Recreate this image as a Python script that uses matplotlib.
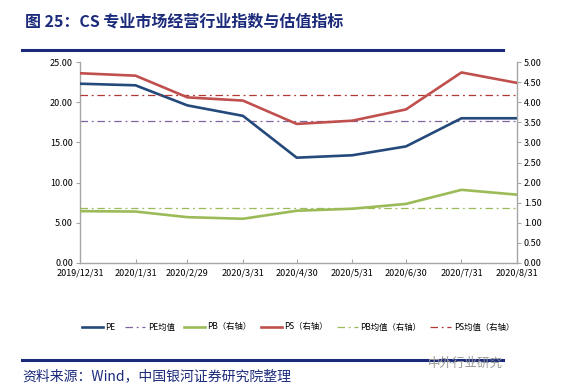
import matplotlib
matplotlib.use("Agg")
import matplotlib.pyplot as plt
from matplotlib.lines import Line2D
import datetime as dt

plt.rcParams['font.family'] = ['Noto Sans CJK SC', 'DejaVu Sans']

dates = ["2019/12/31", "2020/1/31", "2020/2/29", "2020/3/31", "2020/4/30",
         "2020/5/31", "2020/6/30", "2020/7/31", "2020/8/31"]
pe = [22.3, 22.1, 19.6, 18.3, 13.1, 13.4, 14.5, 18.0, 18.0]
ps = [4.72, 4.66, 4.12, 4.04, 3.46, 3.54, 3.82, 4.74, 4.48]
pb = [1.29, 1.28, 1.14, 1.10, 1.30, 1.35, 1.47, 1.82, 1.70]
pe_mean = 17.7
ps_mean = 4.18
pb_mean = 1.38

title = "图 25：CS 专业市场经营行业指数与估值指标"
source = "资料来源：Wind，中国银河证券研究院整理"
watermark = "中外行业研究"

x = [dt.datetime.strptime(d, "%Y/%m/%d") for d in dates]

navy = "#1B2A7A"
c_pe = "#24497A"
c_ps = "#C0504D"
c_pb = "#9BBB59"
c_pem = "#8064A2"
c_psm = "#B03A36"
c_pbm = "#9BBB59"
grey = "#A6A6A6"
dash = (0, (6, 3, 1.5, 3))

fig = plt.figure(figsize=(5.73, 3.92), dpi=100)
ax = fig.add_axes([80/573, 1-263/392, (517-80)/573, (263-62)/392])
ax2 = ax.twinx()

ax.plot(x, pe, color=c_pe, lw=1.9, zorder=5)
ax.plot([x[0], x[-1]], [pe_mean, pe_mean], color=c_pem, lw=0.9, ls=dash)
ax2.plot(x, pb, color=c_pb, lw=1.9, zorder=5)
ax2.plot(x, ps, color=c_ps, lw=1.9, zorder=5)
ax2.plot([x[0], x[-1]], [pb_mean, pb_mean], color=c_pbm, lw=0.9, ls=dash)
ax2.plot([x[0], x[-1]], [ps_mean, ps_mean], color=c_psm, lw=0.9, ls=dash)

ax.set_xlim(x[0], x[-1])
ax.set_ylim(0, 25)
ax2.set_ylim(0, 5)
lt = [0, 5, 10, 15, 20, 25]
ax.set_yticks(lt)
ax.set_yticklabels([f"{v:.2f}" for v in lt])
r = [i * 0.5 for i in range(11)]
ax2.set_yticks(r)
ax2.set_yticklabels([f"{v:.2f}" for v in r])
ax.set_xticks(x)
ax.set_xticklabels(dates)

for a in (ax, ax2):
    a.spines["top"].set_visible(False)
    for s in ("left", "right", "bottom"):
        a.spines[s].set_color(grey)
        a.spines[s].set_linewidth(1.0)
    a.tick_params(axis='y', length=3, width=0.8, color=grey, labelsize=6.5, pad=2)
ax.tick_params(axis='x', length=3, width=0.8, color=grey, labelsize=6.5, pad=4, direction='in')
ax.spines['right'].set_visible(False)
ax2.spines['left'].set_visible(False)
ax2.spines['bottom'].set_visible(False)

handles = [
    Line2D([], [], color=c_pe, lw=1.9),
    Line2D([], [], color=c_pem, lw=0.9, ls=dash),
    Line2D([], [], color=c_pb, lw=1.9),
    Line2D([], [], color=c_ps, lw=1.9),
    Line2D([], [], color=c_pbm, lw=0.9, ls=dash),
    Line2D([], [], color=c_psm, lw=0.9, ls=dash),
]
labels = ["PE", "PE均值", "PB（右轴）", "PS（右轴）", "PB均值（右轴）", "PS均值（右轴）"]
fig.legend(handles, labels, loc='center', bbox_to_anchor=(298/573, 1-327/392), ncol=6,
           frameon=False, fontsize=6, handlelength=2.5, handletextpad=0.3,
           columnspacing=1.1)

fig.text(25/573, 1-22/392, title, fontsize=11.5, fontweight='bold', color=navy,
         va='center', ha='left')
fig.add_artist(Line2D([22/573, 503/573], [1-50/392, 1-50/392], color=navy, lw=2.2))
fig.add_artist(Line2D([22/573, 503/573], [1-360/392, 1-360/392], color=navy, lw=2.2))
fig.text(22/573, 1-376/392, source, fontsize=10, style='italic', color=navy,
         va='center', ha='left')
fig.text(503/573, 1-363/392, watermark, fontsize=9, color="#9A9A9A",
         va='center', ha='right')

fig.savefig("out.png", dpi=100)
